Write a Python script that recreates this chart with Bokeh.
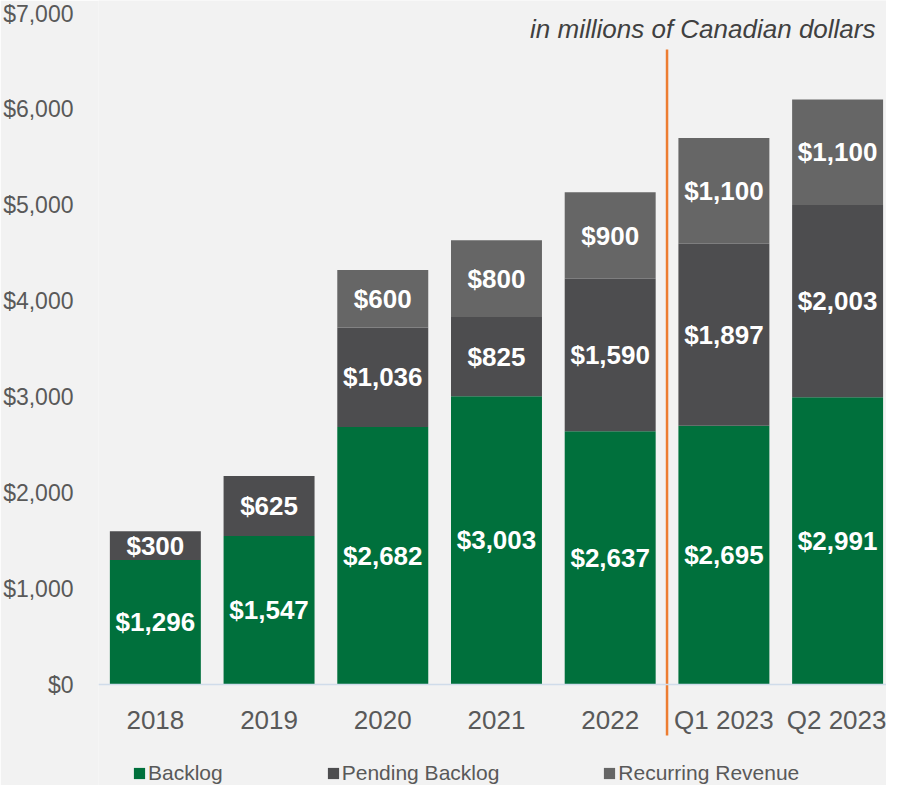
import numpy as np
from bokeh.plotting import figure
from bokeh.models import (ColumnDataSource, FixedTicker, NumeralTickFormatter,
                          Legend, LegendItem, Range1d)
from bokeh.core.properties import value
from bokeh.embed import file_html
from bokeh.resources import INLINE

# ---- data ----
categories = ["2018", "2019", "2020", "2021", "2022", "Q1 2023", "Q2 2023"]
backlog = [1296, 1547, 2682, 3003, 2637, 2695, 2991]
pending_backlog = [300, 625, 1036, 825, 1590, 1897, 2003]
recurring_revenue = [0, 0, 600, 800, 900, 1100, 1100]
series_names = ["Backlog", "Pending Backlog", "Recurring Revenue"]
y_ticks = [0, 1000, 2000, 3000, 4000, 5000, 6000, 7000]
subtitle = "in millions of Canadian dollars"

colors = ["#00703C", "#4D4D4F", "#666666"]
BG = "#F2F2F2"
FONT = "Liberation Sans"

xs = list(range(len(categories)))
source = ColumnDataSource(dict(x=xs, backlog=backlog, pending=pending_backlog,
                               recurring=recurring_revenue))

p = figure(width=886, height=785, output_backend="svg", toolbar_location=None,
           x_range=Range1d(-0.5, 6.43), y_range=Range1d(-1052, 7125),
           min_border_left=96, min_border_right=0, min_border_top=0, min_border_bottom=0,
           background_fill_color=BG, border_fill_color=BG, outline_line_color=None)
p.grid.visible = False

renderers = p.vbar_stack(["backlog", "pending", "recurring"], x="x", width=0.8,
                         color=colors, source=source, line_color=None)

# value labels
lab_x, lab_y, lab_t = [], [], []
for i in xs:
    base = 0
    for vals in (backlog, pending_backlog, recurring_revenue):
        v = vals[i]
        if v > 0:
            lab_x.append(i)
            lab_y.append(base + v / 2)
            lab_t.append("${:,}".format(v))
        base += v
p.text(x=lab_x, y=lab_y, text=lab_t, text_align="center", text_baseline="middle",
       text_color="white", text_font=value(FONT), text_font_style="bold",
       text_font_size="26px")

# separator line between annual and quarterly
p.segment(x0=[4.5], y0=[-531], x1=[4.5], y1=[6615], line_color="#ED7D31", line_width=2.5)

# subtitle
p.text(x=[6.333], y=[6833], text=[subtitle], text_align="right", text_baseline="middle",
       text_color="#404040", text_font=value(FONT), text_font_style="italic",
       text_font_size="26px")

# axes
yax = p.yaxis[0]
yax.ticker = FixedTicker(ticks=y_ticks)
yax.formatter = NumeralTickFormatter(format="$0,0")
yax.axis_line_color = None
yax.major_tick_line_color = None
yax.minor_tick_line_color = None
yax.major_label_standoff = 19
yax.major_label_text_font = FONT
yax.major_label_text_font_size = "23px"
yax.major_label_text_color = "#595959"

xax = p.xaxis[0]
xax.fixed_location = 0
xax.ticker = FixedTicker(ticks=xs)
xax.major_label_overrides = {i: c for i, c in zip(xs, categories)}
xax.axis_line_color = "#D0DCEA"
xax.axis_line_width = 1.5
xax.major_tick_line_color = None
xax.minor_tick_line_color = None
xax.major_label_standoff = 14
xax.major_label_text_font = FONT
xax.major_label_text_font_size = "26px"
xax.major_label_text_color = "#595959"

legend = Legend(items=[LegendItem(label=n, renderers=[r]) for n, r in zip(series_names, renderers)],
                location=(34, 0), orientation="horizontal", padding=0, margin=0,
                spacing=103, label_standoff=2, glyph_width=14, glyph_height=14,
                label_text_font=FONT, label_text_font_size="21px", label_text_color="#595959",
                label_height=21, background_fill_alpha=0, border_line_alpha=0)
p.add_layout(legend)

open("out.html", "w").write(file_html(p, INLINE))
